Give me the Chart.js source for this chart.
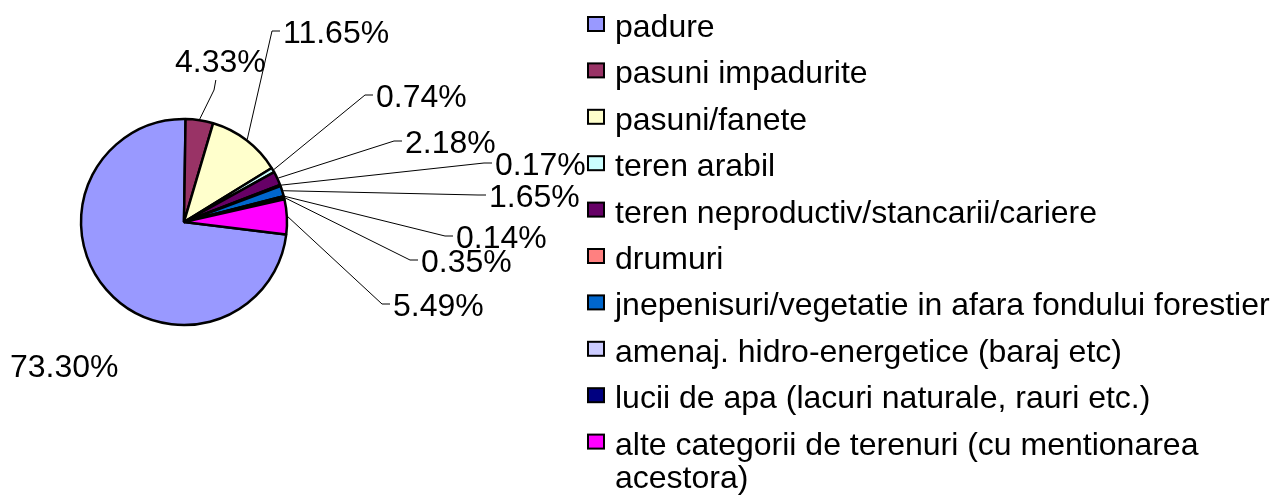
<!DOCTYPE html>
<html>
<head>
<meta charset="utf-8">
<script src="https://cdn.jsdelivr.net/npm/chart.js@4/dist/chart.umd.min.js"></script>
<style>
  html, body { margin: 0; padding: 0; background: #fff; }
</style>
</head>
<body>
<canvas id="chart" width="1275" height="496"></canvas>
<script>
// land use shares (%)
const categories = [
  'padure',
  'pasuni impadurite',
  'pasuni/fanete',
  'teren arabil',
  'teren neproductiv/stancarii/cariere',
  'drumuri',
  'jnepenisuri/vegetatie in afara fondului forestier',
  'amenaj. hidro-energetice (baraj etc)',
  'lucii de apa (lacuri naturale, rauri etc.)',
  'alte categorii de terenuri (cu mentionarea acestora)',
];
const shares = [73.30, 4.33, 11.65, 0.74, 2.18, 0.17, 1.65, 0.14, 0.35, 5.49];
const sliceColors = [
  '#9999ff', '#993366', '#ffffcc', '#ccffff', '#660066',
  '#ff8080', '#0066cc', '#ccccff', '#000080', '#ff00ff',
];

// where each percentage label sits: [left x, baseline y, leader style]
const labelPos = [
  [10, 377, 'none'],
  [175, 72, 'below'],
  [283, 43, 'left'],
  [376, 107, 'left'],
  [405, 153, 'left'],
  [495, 175, 'left'],
  [489, 207, 'left'],
  [456, 248, 'left'],
  [421, 272, 'left'],
  [393, 316, 'left'],
];

const FONT = '32px "Liberation Sans", Arial, sans-serif';

const pieLabels = {
  id: 'pieLabels',
  afterDatasetsDraw(chart) {
    const ctx = chart.ctx;
    const meta = chart.getDatasetMeta(0);
    ctx.save();
    ctx.font = FONT;
    ctx.fillStyle = '#000';
    ctx.strokeStyle = '#000';
    ctx.lineWidth = 1;
    ctx.textBaseline = 'alphabetic';
    meta.data.forEach((arc, i) => {
      const p = arc.getProps(['x', 'y', 'startAngle', 'endAngle', 'outerRadius'], true);
      const mid = (p.startAngle + p.endAngle) / 2;
      const ex = p.x + Math.cos(mid) * (p.outerRadius + 1);
      const ey = p.y + Math.sin(mid) * (p.outerRadius + 1);
      const [lx, ly, style] = labelPos[i];
      const text = shares[i].toFixed(2) + '%';
      if (style === 'left') {
        ctx.beginPath();
        ctx.moveTo(ex, ey);
        ctx.lineTo(lx - 11, ly - 12);
        ctx.lineTo(lx - 3, ly - 12);
        ctx.stroke();
      } else if (style === 'below') {
        const w = ctx.measureText(text).width;
        ctx.beginPath();
        ctx.moveTo(ex, ey);
        ctx.lineTo(lx + w * 0.43, ly + 18);
        ctx.lineTo(lx + w * 0.45, ly + 8);
        ctx.stroke();
      }
      ctx.fillText(text, lx, ly);
    });
    ctx.restore();
  },
};

// legend drawn at the right, one row per category
const LEGEND_X = 588;
const LEGEND_TOP = 37;
const LEGEND_STEP = 46.4;

const sideLegend = {
  id: 'sideLegend',
  afterDraw(chart) {
    const ctx = chart.ctx;
    ctx.save();
    ctx.font = FONT;
    ctx.textBaseline = 'alphabetic';
    const textX = LEGEND_X + 27;
    const maxW = chart.width - textX - 2;
    categories.forEach((name, i) => {
      const base = LEGEND_TOP + i * LEGEND_STEP;
      ctx.fillStyle = sliceColors[i];
      ctx.fillRect(LEGEND_X, base - 20, 16, 14);
      ctx.strokeStyle = '#000';
      ctx.lineWidth = 2;
      ctx.strokeRect(LEGEND_X, base - 20, 16, 14);
      // simple word wrap
      const words = name.split(' ');
      const lines = [];
      let line = '';
      words.forEach(w => {
        const t = line ? line + ' ' + w : w;
        if (ctx.measureText(t).width > maxW && line) {
          lines.push(line);
          line = w;
        } else {
          line = t;
        }
      });
      lines.push(line);
      ctx.fillStyle = '#000';
      lines.forEach((l, j) => ctx.fillText(l, textX, base + j * 33));
    });
    ctx.restore();
  },
};

new Chart(document.getElementById('chart'), {
  type: 'pie',
  data: {
    labels: categories,
    datasets: [{
      data: shares,
      backgroundColor: sliceColors,
      borderColor: '#000',
      borderWidth: 2.5,
    }],
  },
  options: {
    responsive: false,
    animation: false,
    rotation: 97,
    radius: 103,
    layout: { padding: { left: 81, right: 988, top: 119, bottom: 171 } },
    plugins: {
      legend: { display: false },
      tooltip: { enabled: false },
    },
  },
  plugins: [pieLabels, sideLegend],
});
</script>
</body>
</html>
